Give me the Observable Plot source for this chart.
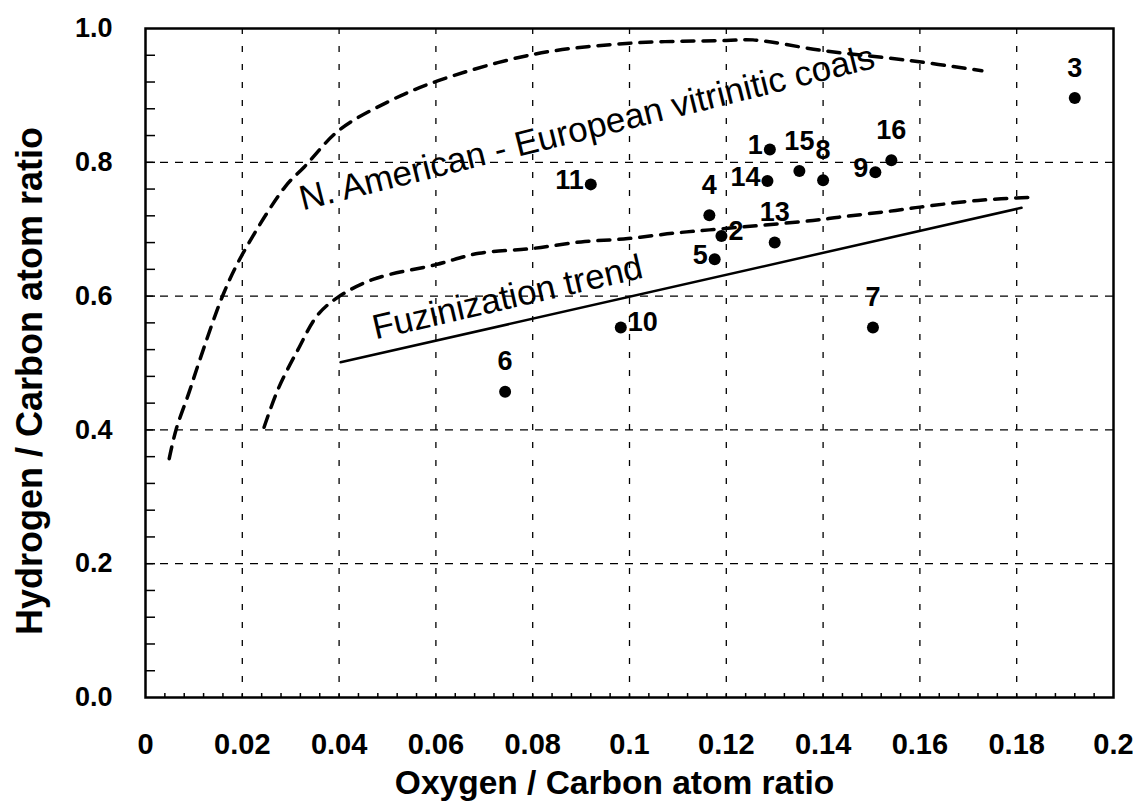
<!DOCTYPE html>
<html>
<head>
<meta charset="utf-8">
<script src="https://cdn.jsdelivr.net/npm/d3@7"></script>
<script src="https://cdn.jsdelivr.net/npm/@observablehq/plot@0.6"></script>
<style>
  html, body { margin: 0; padding: 0; background: #fff; }
  #chart { width: 1133px; height: 806px; }
</style>
</head>
<body>
<div id="chart"></div>
<script>
// ---- Data ----
const sampleIds = [1, 2, 3, 4, 5, 6, 7, 8, 9, 10, 11, 13, 14, 15, 16];
const oxygenCarbon = [0.129, 0.119, 0.192, 0.1165, 0.1176, 0.0743, 0.1503, 0.140, 0.1508, 0.0982, 0.092, 0.130, 0.1285, 0.1351, 0.1541];
const hydrogenCarbon = [0.819, 0.690, 0.896, 0.721, 0.655, 0.457, 0.553, 0.773, 0.785, 0.553, 0.767, 0.680, 0.772, 0.787, 0.803];

// Upper boundary of N. American - European vitrinitic coals band
const upperBandX = [0.0049, 0.0063, 0.009, 0.011, 0.0162, 0.0203, 0.0288, 0.0328, 0.040, 0.050, 0.0605, 0.0806, 0.100, 0.120, 0.1255, 0.140, 0.158, 0.1728];
const upperBandY = [0.357, 0.400, 0.456, 0.500, 0.605, 0.666, 0.763, 0.793, 0.848, 0.890, 0.922, 0.962, 0.978, 0.982, 0.983, 0.967, 0.952, 0.937];

// Lower boundary of the band
const lowerBandX = [0.0245, 0.0274, 0.0315, 0.0355, 0.0395, 0.047, 0.060, 0.0689, 0.0797, 0.090, 0.0997, 0.109, 0.1165, 0.1379, 0.1433, 0.155, 0.160, 0.172, 0.1838];
const lowerBandY = [0.404, 0.461, 0.520, 0.571, 0.597, 0.625, 0.647, 0.664, 0.671, 0.681, 0.686, 0.694, 0.699, 0.713, 0.718, 0.728, 0.733, 0.743, 0.748];

// Fuzinization trend line (end points)
const trendX = [0.0403, 0.181];
const trendY = [0.501, 0.732];

// Annotations
const annotationText = ["N. American - European vitrinitic coals", "Fuzinization trend"];
const annotationX = [0.0325, 0.0475];
const annotationY = [0.728, 0.535];

// Axes
const xTicks = [0, 0.02, 0.04, 0.06, 0.08, 0.1, 0.12, 0.14, 0.16, 0.18, 0.2];
const xTickLabels = ["0", "0.02", "0.04", "0.06", "0.08", "0.1", "0.12", "0.14", "0.16", "0.18", "0.2"];
const yTicks = [0, 0.2, 0.4, 0.6, 0.8, 1.0];
const yTickLabels = ["0.0", "0.2", "0.4", "0.6", "0.8", "1.0"];
const xTitle = "Oxygen / Carbon atom ratio";
const yTitle = "Hydrogen / Carbon atom ratio";

// ---- Build tables ----
const points = sampleIds.map((id, i) => ({id: String(id), x: oxygenCarbon[i], y: hydrogenCarbon[i]}));
const upper = upperBandX.map((x, i) => ({x, y: upperBandY[i]}));
const lower = lowerBandX.map((x, i) => ({x, y: lowerBandY[i]}));
const trend = trendX.map((x, i) => ({x, y: trendY[i]}));
const xLabelMap = new Map(xTicks.map((t, i) => [t, xTickLabels[i]]));
const yLabelMap = new Map(yTicks.map((t, i) => [t, yTickLabels[i]]));
const xGrid = xTicks.slice(1, -1);
const yGrid = yTicks.slice(1, -1);
const yMinor = d3.range(0, 26).map(i => i * 0.04).filter(v => v > 0.001 && v < 0.999);
const xMinor = d3.range(0, 51).map(i => i * 0.004).filter(v => v > 0.001 && v < 0.199);

// label placement groups
const leftIds = new Set(["1", "5", "9", "11", "14"]);
const rightIds = new Set(["2", "10"]);
const abovePts = points.filter(p => !leftIds.has(p.id) && !rightIds.has(p.id));
const leftPts = points.filter(p => leftIds.has(p.id));
const rightPts = points.filter(p => rightIds.has(p.id));

const FONT = "'Liberation Sans', Arial, Helvetica, sans-serif";

const chart = Plot.plot({
  width: 1133,
  height: 806,
  marginLeft: 145,
  marginRight: 20,
  marginTop: 28,
  marginBottom: 109,
  style: {fontFamily: FONT, background: "#fff", color: "#000"},
  x: {domain: [0, 0.2]},
  y: {domain: [0, 1]},
  marks: [
    // grid
    Plot.ruleX(xGrid, {stroke: "#000", strokeWidth: 1.3, strokeDasharray: "6,12"}),
    Plot.ruleY(yGrid, {stroke: "#000", strokeWidth: 1.3, strokeDasharray: "8,7"}),
    // minor inner ticks
    Plot.axisY({ticks: yMinor, tickSize: -10, tickFormat: () => "", label: null, strokeWidth: 1.5}),
    Plot.axisX({ticks: xMinor, tickSize: -4, tickFormat: () => "", label: null, strokeWidth: 1.5}),
    // tick labels
    Plot.axisX({ticks: xTicks, tickSize: 0, tickPadding: 36, tickFormat: d => xLabelMap.get(d), label: null, fontSize: 29, fontWeight: "bold"}),
    Plot.axisY({ticks: yTicks, tickSize: 0, tickPadding: 33, tickFormat: d => yLabelMap.get(d), label: null, fontSize: 27, fontWeight: "bold"}),
    // frame
    Plot.frame({stroke: "#000", strokeWidth: 2.5}),
    // band boundaries
    Plot.line(upper, {x: "x", y: "y", curve: "catmull-rom", stroke: "#000", strokeWidth: 3.5, strokeDasharray: "12,9"}),
    Plot.line(lower, {x: "x", y: "y", curve: "catmull-rom", stroke: "#000", strokeWidth: 3.5, strokeDasharray: "12,9"}),
    // trend
    Plot.line(trend, {x: "x", y: "y", stroke: "#000", strokeWidth: 2.5}),
    // annotations
    Plot.text([0], {x: annotationX[0], y: annotationY[0], text: [annotationText[0]], rotate: -14, textAnchor: "start", lineAnchor: "bottom", fontSize: 35, fill: "#000"}),
    Plot.text([0], {x: annotationX[1], y: annotationY[1], text: [annotationText[1]], rotate: -13, textAnchor: "start", lineAnchor: "bottom", fontSize: 35, fill: "#000"}),
    // points
    Plot.dot(points, {x: "x", y: "y", r: 6, fill: "#000", stroke: null}),
    Plot.text(abovePts, {x: "x", y: "y", text: "id", dy: -30, fontSize: 27, fontWeight: "bold", fill: "#000"}),
    Plot.text(leftPts, {x: "x", y: "y", text: "id", dx: -7, dy: -4, textAnchor: "end", fontSize: 27, fontWeight: "bold", fill: "#000"}),
    Plot.text(rightPts, {x: "x", y: "y", text: "id", dx: 7, dy: -5, textAnchor: "start", fontSize: 27, fontWeight: "bold", fill: "#000"}),
    // axis titles
    Plot.text([xTitle], {frameAnchor: "bottom", dy: 86, dx: -15, text: d => d, textAnchor: "middle", fontSize: 33.5, fontWeight: "bold", lineAnchor: "middle", fill: "#000"}),
    Plot.text([yTitle], {frameAnchor: "left", dx: -115, dy: 18, text: d => d, textAnchor: "middle", rotate: -90, fontSize: 36, fontWeight: "bold", lineAnchor: "middle", fill: "#000"})
  ]
});
document.getElementById("chart").appendChild(chart);
</script>
</body>
</html>
